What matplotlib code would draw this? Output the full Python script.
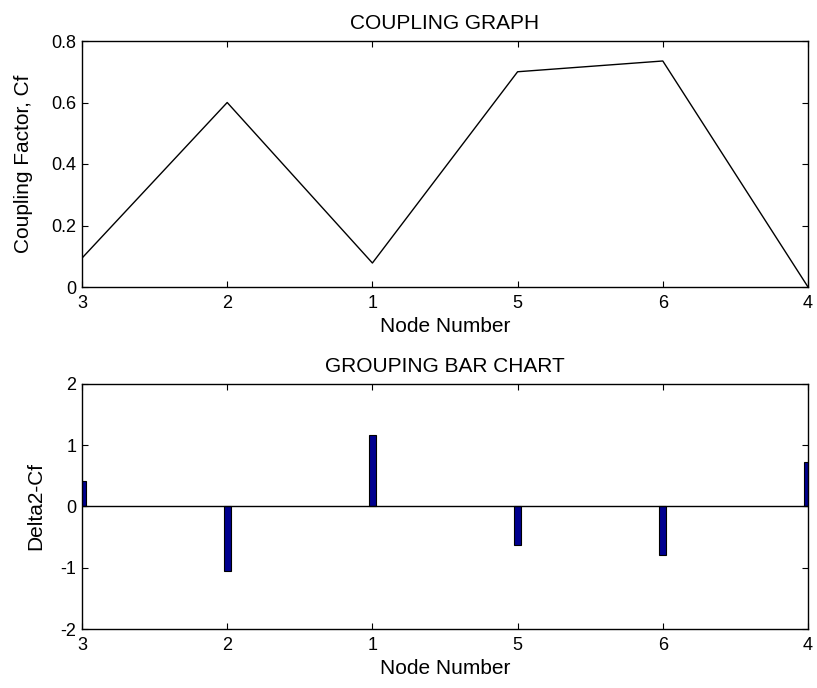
import matplotlib
matplotlib.use("Agg")
import matplotlib.pyplot as plt

nodes = ["3", "2", "1", "5", "6", "4"]
coupling = [0.094, 0.60, 0.078, 0.70, 0.735, 0.0]
delta2 = [0.41, -1.06, 1.16, -0.63, -0.79, 0.73]

plt.rcParams['font.family'] = ['Liberation Sans', 'DejaVu Sans']
plt.rcParams['axes.unicode_minus'] = False

LAB = 15
TICK = 13

fig = plt.figure(figsize=(8.17, 6.88), dpi=100)
ax1 = fig.add_axes([82 / 817, 1 - 287 / 688, 726 / 817, 246 / 688])
ax2 = fig.add_axes([82 / 817, 1 - 629 / 688, 726 / 817, 245 / 688])

x = list(range(len(nodes)))

ax1.plot(x, coupling, color="black", linewidth=1)
ax1.set_xlim(0, len(nodes) - 1)
ax1.set_ylim(0, 0.8)
ax1.set_yticks([0, 0.2, 0.4, 0.6, 0.8])
ax1.set_yticklabels(["0", "0.2", "0.4", "0.6", "0.8"])
ax1.set_title("COUPLING GRAPH", fontsize=LAB, pad=8.5)
ax1.set_ylabel("Coupling Factor, Cf", fontsize=LAB)
ax1.yaxis.set_label_coords(-0.0675, 0.5)
ax1.set_xlabel("Node Number", fontsize=LAB, labelpad=3)

ax2.bar(x, delta2, width=0.05, color="#00008f", edgecolor="black", linewidth=0.8)
ax2.axhline(0, color="black", linewidth=1)
ax2.set_xlim(0, len(nodes) - 1)
ax2.set_ylim(-2, 2)
ax2.set_yticks([-2, -1, 0, 1, 2])
ax2.set_title("GROUPING BAR CHART", fontsize=LAB, pad=8.5)
ax2.set_ylabel("Delta2-Cf", fontsize=LAB)
ax2.yaxis.set_label_coords(-0.05, 0.5)
ax2.set_xlabel("Node Number", fontsize=LAB, labelpad=3)

for ax in (ax1, ax2):
    ax.set_xticks(x)
    ax.set_xticklabels(nodes)
    ax.tick_params(direction="in", top=True, right=True, length=4.5, labelsize=TICK)
    ax.tick_params(axis="x", pad=6)
    ax.tick_params(axis="y", pad=4)
    for s in ax.spines.values():
        s.set_linewidth(1)

fig.savefig("out.png", dpi=100, facecolor="white")
